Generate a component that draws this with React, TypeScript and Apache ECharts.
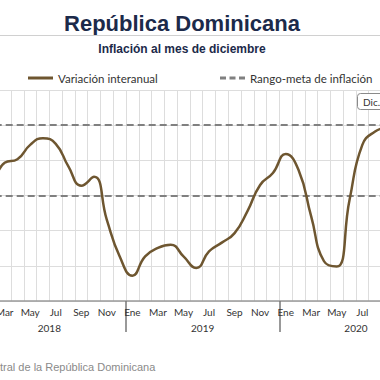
import React, { useEffect, useRef } from "react";
import * as echarts from "echarts";

const monthNames = ["Ene", "Feb", "Mar", "Abr", "May", "Jun", "Jul", "Ago", "Sep", "Oct", "Nov", "Dic"];
const years = ["2018", "2019", "2020"];
const months = years.flatMap(() => monthNames);

const inflation2018 = [3.95, 3.5, 3.93, 4.03, 4.44, 4.63, 4.47, 3.82, 3.28, 3.53, 2.31, 1.27];
const inflation2019 = [0.72, 1.27, 1.51, 1.6, 1.27, 0.94, 1.41, 1.66, 1.93, 2.55, 3.3, 3.64];
const inflation2020 = [4.18, 3.73, 2.4, 1.13, 0.98, 2.88, 4.44, 4.82, 4.95, 5.1, 5.3, 5.55];
const inflation = [...inflation2018, ...inflation2019, ...inflation2020];

const targetRange = [3, 5];
const yTicks = [0, 6, 1]; // min, max, interval

const seriesName = "Variación interanual";
const targetName = "Rango-meta de inflación";

// The reference is a crop of a wider chart: the chart canvas is wider and shifted left.
const SHIFT = 40;
const CHART_W = 480;

export default function App() {
  const ref = useRef<HTMLDivElement>(null);

  useEffect(() => {
    if (!ref.current) return;
    const chart = echarts.init(ref.current, null, { renderer: "svg" });
    const font = "Lato, 'Open Sans', sans-serif";
    const sx = (x: number) => x + SHIFT;
    chart.setOption({
      animation: false,
      backgroundColor: "#ffffff",
      graphic: [
        {
          type: "text",
          x: sx(182),
          y: 23,
          style: {
            text: "República Dominicana",
            fontSize: 22,
            fontWeight: "bold",
            fontFamily: "'Liberation Sans', Arial, sans-serif",
            fill: "#1c2a4a",
            textAlign: "center",
            textVerticalAlign: "middle",
          },
        },
        {
          type: "line",
          shape: { x1: sx(0), y1: 35.5, x2: sx(380), y2: 35.5 },
          style: { stroke: "#d0d0d0", lineWidth: 1 },
        },
        {
          type: "text",
          x: sx(182),
          y: 49,
          style: {
            text: "Inflación al mes de diciembre",
            fontSize: 12,
            fontWeight: "bold",
            fontFamily: "'Liberation Sans', Arial, sans-serif",
            fill: "#1c2a4a",
            textAlign: "center",
            textVerticalAlign: "middle",
          },
        },
        {
          type: "rect",
          shape: { x: sx(357.5), y: 93.5, width: 40, height: 16, r: 3 },
          style: { fill: "#ffffff", stroke: "#8a8a8a", lineWidth: 1 },
          z: 100,
        },
        {
          type: "text",
          x: sx(363),
          y: 102,
          z: 101,
          style: {
            text: "Dic.",
            fontSize: 10,
            fontFamily: font,
            fill: "#333333",
            textVerticalAlign: "middle",
          },
        },
        {
          type: "text",
          x: sx(0),
          y: 367,
          style: {
            text: "tral de la República Dominicana",
            fontSize: 11,
            fontFamily: "'Liberation Sans', Arial, sans-serif",
            fill: "#8a8a8a",
            textVerticalAlign: "middle",
          },
        },
      ],
      legend: [
        {
          data: [seriesName],
          left: sx(28),
          top: 72,
          padding: 0,
          icon: "path://M0,0h25v3h-25z",
          itemWidth: 25,
          itemHeight: 3,
          itemStyle: { borderWidth: 0 },
          textStyle: { fontSize: 11.5, color: "#333333", fontFamily: font },
        },
        {
          data: [targetName],
          left: sx(220),
          top: 72,
          padding: 0,
          icon: "path://M0,0h6v3h-6zM9.5,0h6v3h-6zM19,0h6v3h-6z",
          itemWidth: 25,
          itemHeight: 3,
          itemStyle: { borderWidth: 0 },
          textStyle: { fontSize: 11.5, color: "#333333", fontFamily: font },
        },
      ],
      grid: { left: sx(-27.3), right: CHART_W - sx(432.6), top: 90, bottom: 79, containLabel: false },
      xAxis: [
        {
          type: "category",
          data: months,
          boundaryGap: true,
          axisLine: { lineStyle: { color: "#9a9a9a", width: 1.5 } },
          axisTick: {
            show: true,
            interval: (i: number) => i % 12 === 0,
            length: 31,
            lineStyle: { color: "#777777", width: 1.5 },
          },
          axisLabel: {
            interval: 1,
            fontSize: 10,
            color: "#333333",
            fontFamily: font,
            margin: 6,
            formatter: (v: string, i: number) => (i === 0 || i >= 32 ? "" : v),
          },
          splitLine: { show: true, interval: 0, lineStyle: { color: "#dddddd", width: 1 } },
        },
        {
          type: "category",
          data: years,
          position: "bottom",
          offset: 16,
          boundaryGap: true,
          axisLine: { show: false },
          axisTick: { show: false },
          splitLine: { show: false },
          axisLabel: { fontSize: 10, color: "#333333", fontFamily: font, margin: 6 },
        },
      ],
      yAxis: {
        type: "value",
        min: yTicks[0],
        max: yTicks[1],
        interval: yTicks[2],
        axisLabel: { show: false },
        axisLine: { show: false },
        axisTick: { show: false },
        splitLine: { lineStyle: { color: "#dddddd", width: 1 } },
      },
      series: [
        {
          name: targetName,
          type: "line",
          data: [],
          symbol: "none",
          color: "#808080",
          lineStyle: { color: "#808080", width: 2, type: [7, 4] },
          markLine: {
            silent: true,
            symbol: "none",
            label: { show: false },
            lineStyle: { color: "#808080", width: 2, type: [7, 4] },
            data: targetRange.map((v) => ({ yAxis: v })),
          },
        },
        {
          name: seriesName,
          type: "line",
          data: inflation,
          smooth: true,
          symbol: "none",
          color: "#6e5630",
          lineStyle: { color: "#6e5630", width: 2.5 },
          z: 5,
        },
      ],
    });
    return () => chart.dispose();
  }, []);

  return (
    <div
      style={{ position: "fixed", left: 0, top: 0, width: 380, height: 380, overflow: "hidden", background: "#fff" }}
    >
      <div
        ref={ref}
        style={{ position: "absolute", left: -SHIFT, top: 0, width: CHART_W, height: 380 }}
      />
    </div>
  );
}
